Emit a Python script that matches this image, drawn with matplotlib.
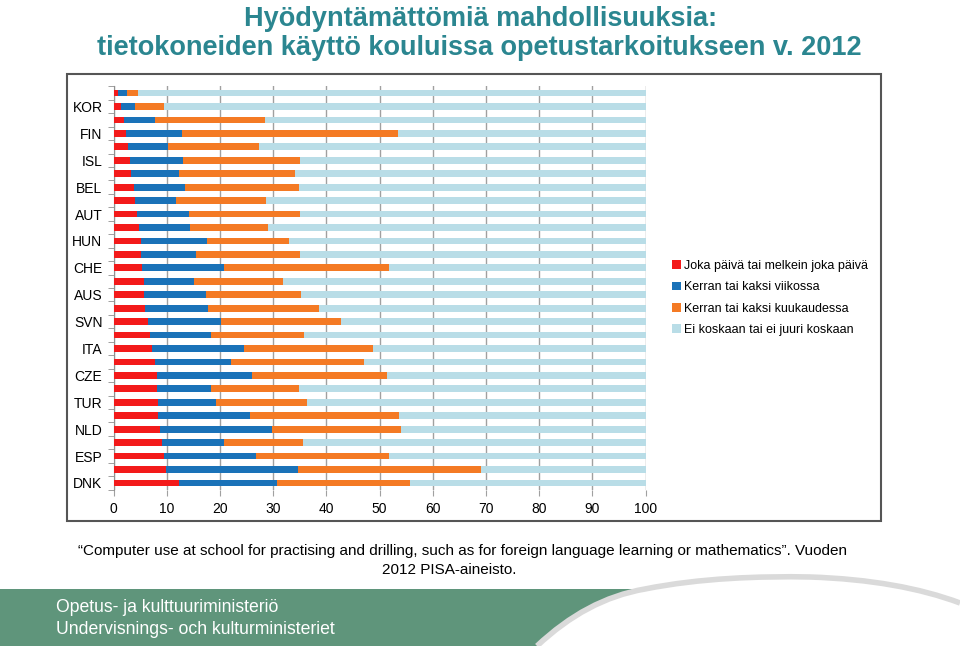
import numpy as np
import matplotlib
matplotlib.use('Agg')
import matplotlib.pyplot as plt
from matplotlib.patches import Rectangle, PathPatch, Patch
from matplotlib.path import Path

# country labels shown on the axis (every other bar carries a label)
countries = ['KOR', 'FIN', 'ISL', 'BEL', 'AUT', 'HUN', 'CHE', 'AUS',
             'SVN', 'ITA', 'CZE', 'TUR', 'NLD', 'ESP', 'DNK']

# shares in %, top bar first
daily = [0.9, 1.4, 2.0, 2.3, 2.8, 3.1, 3.3, 3.8, 4.0, 4.5,
         4.8, 5.2, 5.2, 5.3, 5.7, 5.7, 5.9, 6.4, 6.8, 7.3,
         7.8, 8.1, 8.1, 8.3, 8.3, 8.8, 9.1, 9.4, 9.8, 12.3]
weekly = [1.6, 2.7, 5.8, 10.5, 7.4, 10.0, 9.1, 9.7, 7.8, 9.6,
          9.6, 12.3, 10.4, 15.4, 9.5, 11.7, 11.9, 13.8, 11.6, 17.2,
          14.3, 17.9, 10.3, 10.9, 17.3, 21.0, 11.6, 17.4, 24.8, 18.4]
monthly = [2.1, 5.3, 20.6, 40.7, 17.2, 22.0, 21.7, 21.3, 16.8, 21.0,
           14.7, 15.5, 19.5, 31.1, 16.7, 17.9, 20.9, 22.6, 17.5, 24.3,
           24.9, 25.4, 16.4, 17.2, 28.0, 24.3, 14.9, 25.0, 34.5, 25.0]
never = [100 - d - w - m for d, w, m in zip(daily, weekly, monthly)]

series_names = ['Joka päivä tai melkein joka päivä',
                'Kerran tai kaksi viikossa',
                'Kerran tai kaksi kuukaudessa',
                'Ei koskaan tai ei juuri koskaan']
colors = ['#f31a1a', '#1a72b8', '#f47a24', '#b9dde7']

plt.rcParams['font.family'] = ['Liberation Sans', 'DejaVu Sans']

fig = plt.figure(figsize=(9.6, 6.46), dpi=100)
W, H = 960.0, 646.0


def px(x, y):
    return (x / W, 1 - y / H)


# footer: green band left of a white swoosh
green = [(0, 589), (645, 589), (605, 596), (570, 615), (537, 646), (0, 646), (0, 589)]
gcodes = [Path.MOVETO, Path.LINETO, Path.CURVE4, Path.CURVE4, Path.CURVE4,
          Path.LINETO, Path.CLOSEPOLY]
fig.patches.append(PathPatch(Path([px(*v) for v in green], gcodes),
                             transform=fig.transFigure, facecolor='#5f957b',
                             edgecolor='none', zorder=0))
arc = [(537, 646), (570, 615), (605, 596), (645, 589),
       (700, 578), (760, 576), (810, 577),
       (870, 579), (920, 588), (960, 603)]
acodes = [Path.MOVETO] + [Path.CURVE4] * 9
fig.patches.append(PathPatch(Path([px(*v) for v in arc], acodes),
                             transform=fig.transFigure, facecolor='none',
                             edgecolor='#dadada', lw=4, zorder=1))
fig.text(*px(56, 607), 'Opetus- ja kulttuuriministeriö', color='white',
         fontsize=12.7, va='center', ha='left')
fig.text(*px(56, 630), 'Undervisnings- och kulturministeriet', color='white',
         fontsize=12.7, va='center', ha='left')

# chart frame
fig.patches.append(Rectangle(px(67, 521), 814 / W, 447 / H,
                             transform=fig.transFigure, facecolor='none',
                             edgecolor='#555555', lw=1.5, zorder=2))

# title
fig.text(*px(481, 19), 'Hyödyntämättömiä mahdollisuuksia:', color='#2b8690',
         fontsize=19.5, fontweight='bold', ha='center', va='center')
fig.text(*px(479, 48), 'tietokoneiden käyttö kouluissa opetustarkoitukseen v. 2012',
         color='#2b8690', fontsize=19.5, fontweight='bold', ha='center', va='center')

# caption
fig.text(*px(463, 551),
         '\u201cComputer use at school for practising and drilling, such as for foreign '
         'language learning or mathematics\u201d. Vuoden',
         fontsize=11, ha='center', va='center')
fig.text(*px(449, 570), '2012 PISA-aineisto.', fontsize=11, ha='center', va='center')

ax = fig.add_axes([113.5 / W, 1 - 489.7 / H, 532 / W, 403.4 / H])
y = np.arange(len(daily))
left = np.zeros(len(daily))
handles = []
for vals, c, name in zip([daily, weekly, monthly, never], colors, series_names):
    ax.barh(y, vals, left=left, height=0.5, color=c, zorder=3)
    left = left + np.array(vals)
    handles.append(Patch(facecolor=c, label=name))

ax.set_xlim(0, 100)
ax.set_ylim(len(daily) - 0.5, -0.5)
ax.set_xticks(np.arange(0, 101, 10))
ax.xaxis.grid(True, color='#a0a0a0', lw=1)
ax.set_axisbelow(True)
for s in ['top', 'right', 'bottom']:
    ax.spines[s].set_visible(False)
ax.spines['left'].set_color('#909090')

ylabels = [''] * len(daily)
for i, name in enumerate(countries):
    ylabels[2 * i + 1] = name
ax.set_yticks(y)
ax.set_yticklabels(ylabels, fontsize=10)
ax.set_yticks(np.arange(-0.5, len(daily)), minor=True)
ax.tick_params(axis='y', which='major', length=0, pad=8)
ax.tick_params(axis='y', which='minor', length=4, color='#909090')
ax.tick_params(axis='x', length=4, color='#a0a0a0', labelsize=10, pad=5)

leg = fig.legend(handles=handles, loc='center left', bbox_to_anchor=px(672, 298),
                 frameon=False, fontsize=9, handlelength=0.7, handleheight=0.7,
                 handletextpad=0.3, labelspacing=0.75, borderpad=0, borderaxespad=0)

fig.savefig('out.png', dpi=100)
